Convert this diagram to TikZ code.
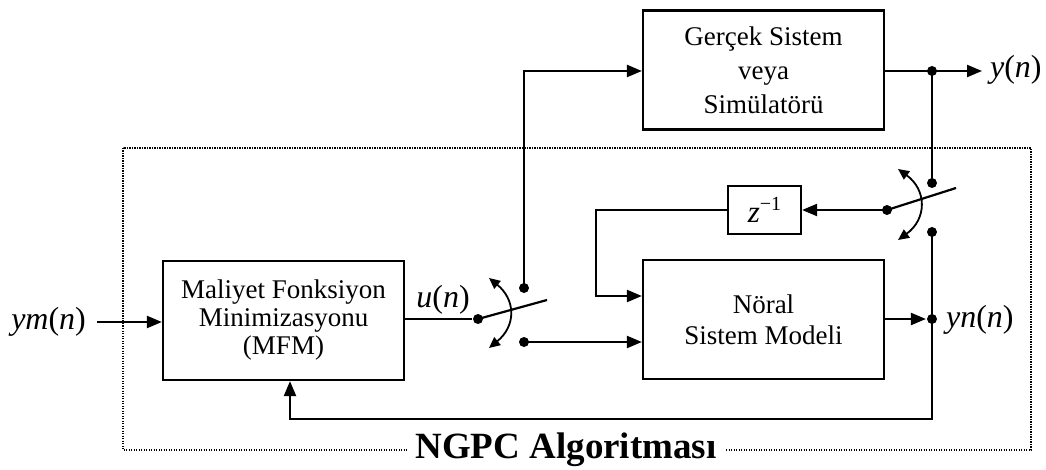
\documentclass[tikz,border=0pt]{standalone}
\usepackage{fontspec}
\setmainfont{Liberation Serif}
\usetikzlibrary{arrows.meta,calc}

\newcommand{\vr}[1]{\textit{#1}}

\begin{document}
\begin{tikzpicture}[x=1pt,y=-1pt,
  line width=2.2pt,
  blockbox/.style={draw,rectangle,inner sep=0pt,align=center,
    font=\fontsize{27}{31}\selectfont},
  sig/.style={font=\fontsize{32}{36}\selectfont,inner sep=0pt},
  arr/.style={-{Triangle[length=15pt,width=12pt]}},
  swarr/.style={line width=1.8pt,{Triangle[length=11pt,width=10pt]}-{Triangle[length=11pt,width=10pt]}},
  dotpt/.style={circle,fill,inner sep=0pt,minimum size=10pt},
  frame/.style={line width=1.3pt,dash pattern=on 1.2pt off 1.3pt}
]
\useasboundingbox (0,0) rectangle (1046,470);

% dotted frame of the controller
\draw[frame] (123,148) rectangle (1031,450);
\node[fill=white,inner xsep=8pt,inner ysep=2pt,font=\fontsize{37}{40}\selectfont\bfseries]
  (algo) at (566,450) {NGPC Algoritması};

% blocks
\node[blockbox,minimum width=241pt,minimum height=119pt] (gs) at (763.5,70)
  {Gerçek Sistem\\[3pt] veya\\[3pt] Simülatörü};
\node[blockbox,minimum width=241pt,minimum height=119pt] (mfm) at (283.5,320.5)
  {Maliyet Fonksiyon\\[-3pt] Minimizasyonu\\[-3pt] (MFM)};
\node[blockbox,minimum width=241pt,minimum height=119pt] (nsm) at (763.5,319.5)
  {Nöral\\ Sistem Modeli};
\node[blockbox,minimum width=73pt,minimum height=48pt] (zb) at (764.5,210)
  {\fontsize{31}{34}\selectfont\vr{z}\raisebox{12pt}{\fontsize{20}{22}\selectfont −1}};

% switch contacts and junctions
\node[dotpt] (s1c) at (478,319) {};
\node[dotpt] (s1u) at (524,288) {};
\node[dotpt] (s1d) at (524,342) {};
\coordinate (s1e) at (547,300);
\node[dotpt] (s2c) at (887,210) {};
\node[dotpt] (s2u) at (932,183) {};
\node[dotpt] (s2d) at (932,232) {};
\coordinate (s2e) at (956,188);
\node[dotpt] (j1) at (932,71) {};
\node[dotpt] (j2) at (932,319) {};
\coordinate (yout) at (982,71);
\coordinate (ymin) at (97,322);
\coordinate (fbc) at (290,419);
\coordinate (zfb) at (596,210);

% signal labels
\node[sig,anchor=east] (ym) at (87,322) {\vr{ym}(\vr{n})};
\node[sig] (un) at (443,300) {\vr{u}(\vr{n})};
\node[sig,anchor=west] (yo) at (989,70) {\vr{y}(\vr{n})};
\node[sig,anchor=west] (yn) at (945,320) {\vr{yn}(\vr{n})};

% connections
\draw[arr] (ymin) -- (ymin -| mfm.west);
\draw (mfm.east |- s1c) -- (s1c);
\draw (s1c.center) -- (s1e);
\draw[arr] (s1u.center) |- (gs.west |- j1);
\draw[arr] (s1d.center) -- (s1d -| nsm.west);

\draw (gs.east |- j1) -- (j1.center);
\draw[arr] (j1.center) -- (yout);
\draw (j1.center) -- (s2u.center);
\draw (s2c.center) -- (s2e);
\draw[arr] (s2c.center) -- (zb.east);
\draw[arr] (zb.west) -- (zfb) -- (zfb |- 0,296) -- (nsm.west |- 0,296);

\draw[arr] (nsm.east |- j2) -- (j2.west);
\draw (s2d.center) -- (j2.center);
\draw[arr] (j2.center) |- (fbc) -- (fbc |- mfm.south);

% switch actuation arrows
\draw[swarr] (489,278) .. controls (516,300) and (516,326) .. (489,348);
\draw[swarr] (898,169) .. controls (927,190) and (927,219) .. (898,240);
\end{tikzpicture}
\end{document}
